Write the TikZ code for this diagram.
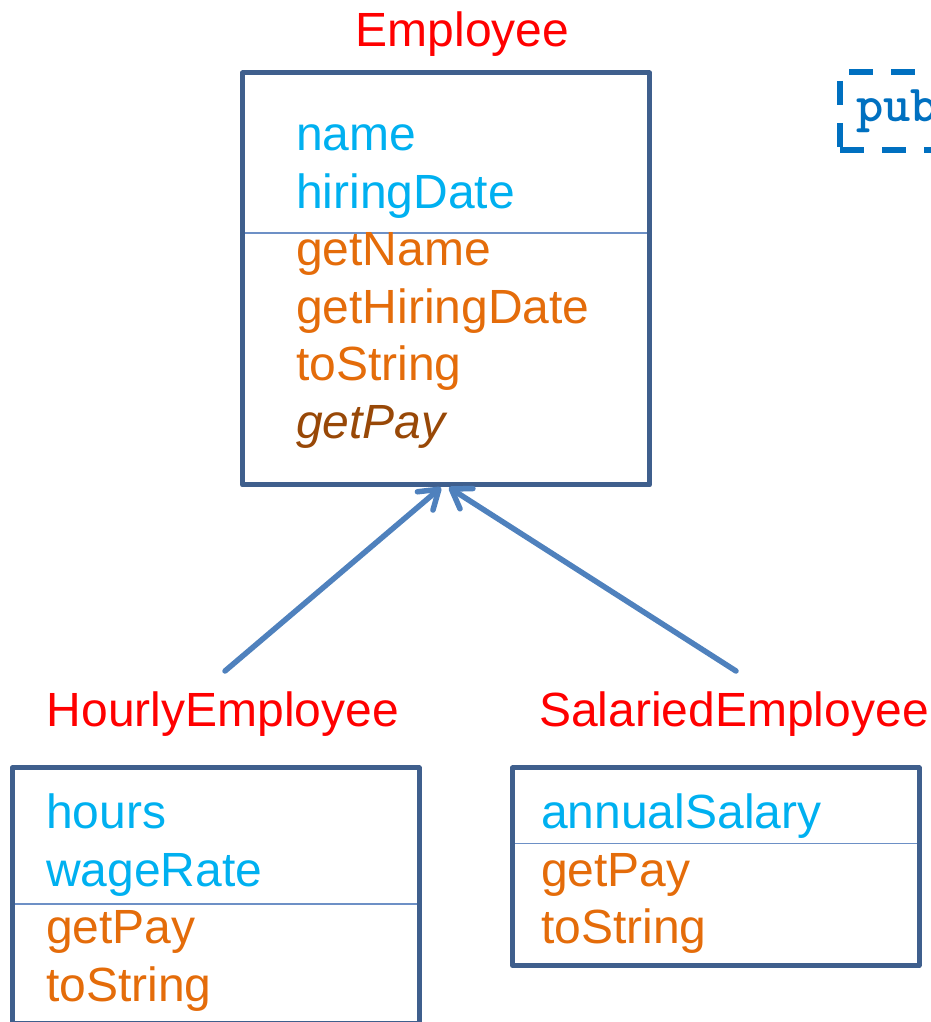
\documentclass[tikz,border=0pt]{standalone}
\usepackage{fontspec}
\setmainfont{Liberation Sans}
\usepackage{xcolor}
\usetikzlibrary{arrows.meta}

\definecolor{boxblue}{HTML}{3F5F8D}
\definecolor{splitblue}{HTML}{6D90C6}
\definecolor{arrowblue}{HTML}{4F81BD}
\definecolor{attrcyan}{HTML}{00B0F0}
\definecolor{methorange}{HTML}{E46C0A}
\definecolor{abstractbrown}{HTML}{984807}
\definecolor{kwblue}{HTML}{0070C0}

\begin{document}
\begin{tikzpicture}[x=1pt,y=1pt,
	classbox/.style={draw=boxblue,line width=5pt,line join=round,inner sep=0pt},
	split/.style={draw=splitblue,line width=1.5pt,shorten <=5pt,shorten >=5pt},
	member/.style={anchor=base west,inner sep=0pt,font=\fontsize{48}{58}\selectfont},
	attr/.style={member,text=attrcyan},
	meth/.style={member,text=methorange},
	title/.style={anchor=base,inner sep=0pt,text=red,font=\fontsize{48}{58}\selectfont},
	inherit/.style={draw=arrowblue,line width=5.5pt,line cap=round,
		-{Straight Barb[length=18pt,width=24pt,round]}},
	kwdash/.style={draw=kwblue,line width=6pt,dash pattern=on 24pt off 18pt}]
	\useasboundingbox (0,0) rectangle (930,1022);
	
	% class boxes
	\node[classbox,minimum width=407pt,minimum height=412pt] (emp) at (446,743) {};
	\node[classbox,minimum width=407pt,minimum height=256pt] (hourly) at (215.5,126) {};
	\node[classbox,minimum width=406.5pt,minimum height=197.5pt] (salaried) at (715.75,155.25) {};
	
	\coordinate (empSplit) at (0,789);
	\coordinate (hourlySplit) at (0,118);
	\coordinate (salariedSplit) at (0,178.5);
	\draw[split] (emp.west |- empSplit) -- (emp.east |- empSplit);
	\draw[split] (hourly.west |- hourlySplit) -- (hourly.east |- hourlySplit);
	\draw[split] (salaried.west |- salariedSplit) -- (salaried.east |- salariedSplit);
	
	% members
	\foreach \y/\m in {871/name,813.5/hiringDate}
		\node[attr] (emp-\m) at (296,\y) {\m};
	\foreach \y/\m in {756/getName,698.5/getHiringDate,641/toString}
		\node[meth] (emp-\m) at (296,\y) {\m};
	\node[meth,text=abstractbrown,font=\fontsize{48}{58}\selectfont\itshape] (emp-getPay) at (296,583.5) {getPay};
	
	\foreach \y/\m in {193/hours,135.5/wageRate}
		\node[attr] (hourly-\m) at (46,\y) {\m};
	\foreach \y/\m in {78/getPay,20.5/toString}
		\node[meth] (hourly-\m) at (46,\y) {\m};
	
	\node[attr] (salaried-annualSalary) at (541,193) {annualSalary};
	\foreach \y/\m in {135.5/getPay,78/toString}
		\node[meth] (salaried-\m) at (541,\y) {\m};
	
	% class names
	\node[title] (empTitle) at (462.5,975) {Employee};
	\node[title] (hourlyTitle) at (223,295) {HourlyEmployee};
	\node[title] (salariedTitle) at (734,295) {SalariedEmployee};
	
	\coordinate (hourlyFoot) at ([shift={(2pt,21pt)}]hourlyTitle.north);
	\coordinate (salariedFoot) at ([shift={(2pt,21pt)}]salariedTitle.north);
	\draw[inherit] (hourlyFoot) -- ([xshift=-5pt]emp.south);
	\draw[inherit] (salariedFoot) -- ([xshift=3pt]emp.south);
	
	% keyword box, cut at the edge
	\node[anchor=base west,inner sep=0pt,text=kwblue,font=\fontsize{52}{60}\ttfamily\bfseries] (kwPub) at (856,900) {pub};
	\coordinate (kwTL) at (840,950);
	\coordinate (kwBL) at (840,872);
	\draw[kwdash,dash phase=33pt] (kwTL) -- ++(110,0);
	\draw[kwdash,dash phase=33pt] (kwTL) -- (kwBL);
	\draw[kwdash] (kwBL) -- ++(110,0);
\end{tikzpicture}
\end{document}
